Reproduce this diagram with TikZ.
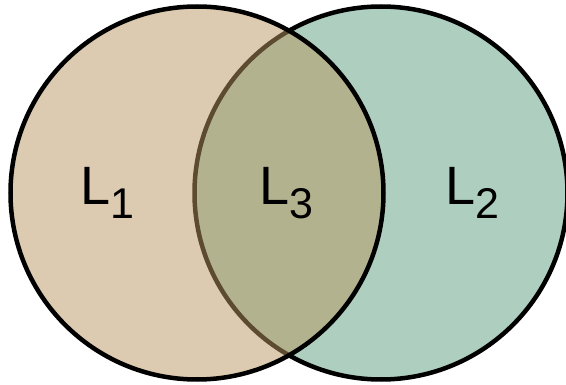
\documentclass[tikz,border=0pt]{standalone}
\usepackage{fontspec}
\setmainfont{Liberation Sans}
\definecolor{setgreen}{RGB}{174,207,191}
\definecolor{settan}{RGB}{185,151,97}
\tikzset{
  setcircle/.style={line width=4.5pt, draw=black, circle, minimum size=373pt, inner sep=0pt},
  setlabel/.style={anchor=base west, inner sep=0pt, font=\fontsize{54}{54}\selectfont},
}
\newcommand{\setname}[1]{L\raisebox{-14pt}{\fontsize{43}{43}\selectfont #1}}
\begin{document}
\begin{tikzpicture}[x=1pt, y=-1pt]
  \useasboundingbox (0,0) rectangle (566,385);
  \begin{scope}
    \clip (0,0) rectangle (566,385);
    % right set, drawn first
    \node[setcircle, fill=setgreen] (right) at (381,193) {};
    % left set, translucent fill over the right one
    \node[setcircle, fill=settan, fill opacity=0.5] (left) at (197,193) {};
  \end{scope}
  \node[setlabel] (l1) at (80,205) {\setname{1}};
  \node[setlabel] (l3) at (259,205) {\setname{3}};
  \node[setlabel] (l2) at (445,205) {\setname{2}};
\end{tikzpicture}
\end{document}
